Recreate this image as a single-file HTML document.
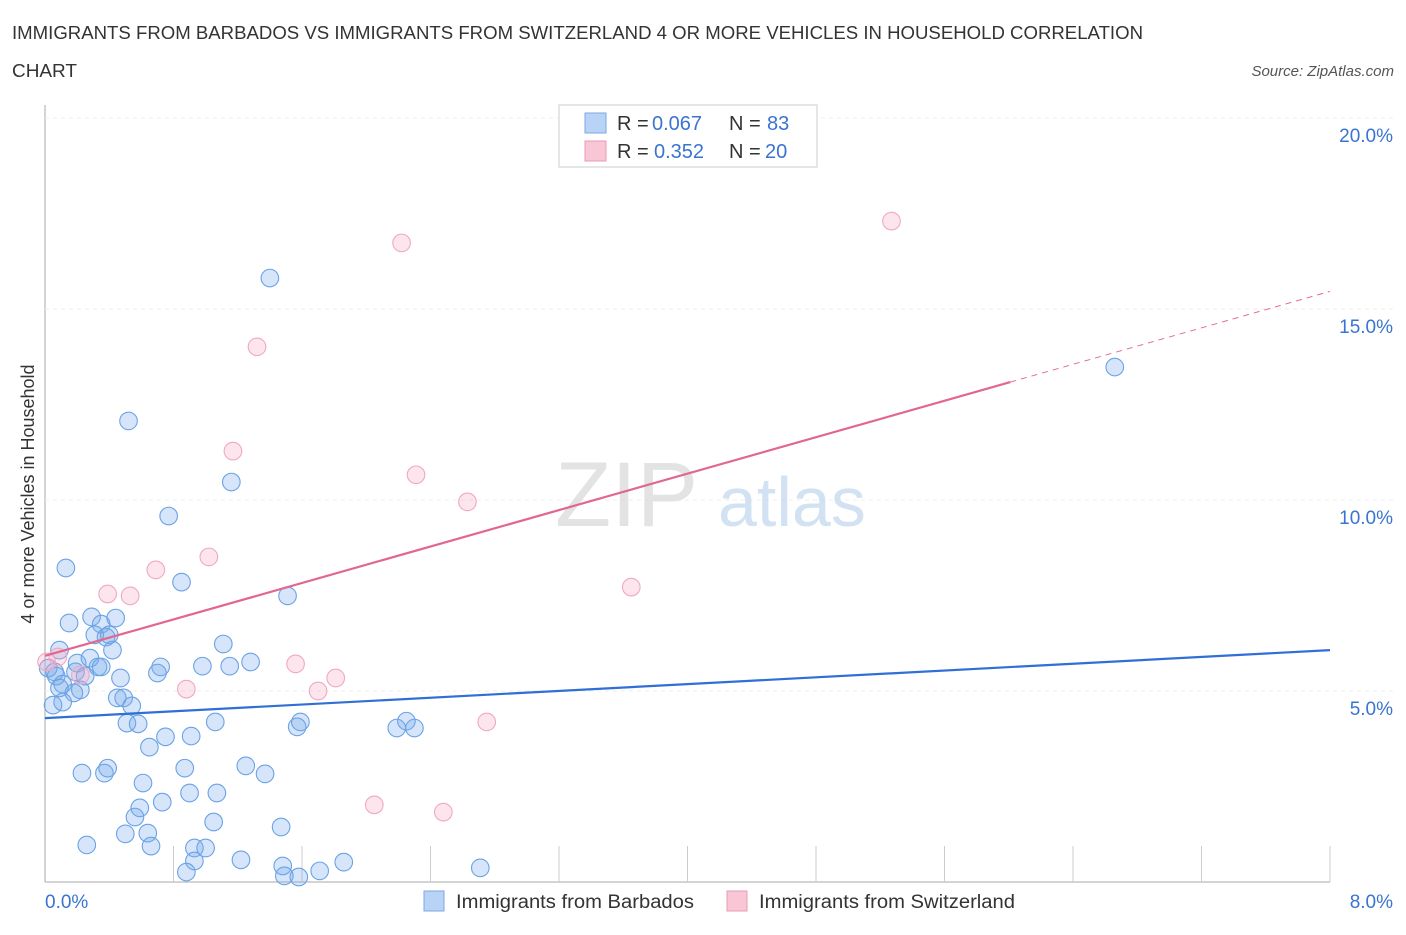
<!DOCTYPE html>
<html><head><meta charset="utf-8"><style>
body{margin:0;background:#fff;font-family:"Liberation Sans",sans-serif;}
svg text{font-family:"Liberation Sans",sans-serif;}
</style></head><body>
<svg id="chart" width="1406" height="930" xmlns="http://www.w3.org/2000/svg">
<text x="12" y="39" font-size="18" fill="#333" textLength="1131" lengthAdjust="spacingAndGlyphs">IMMIGRANTS FROM BARBADOS VS IMMIGRANTS FROM SWITZERLAND 4 OR MORE VEHICLES IN HOUSEHOLD CORRELATION</text>
<text x="12" y="77" font-size="18" fill="#333" textLength="65" lengthAdjust="spacingAndGlyphs">CHART</text>
<text x="1394" y="76" font-size="15" fill="#555" font-style="italic" text-anchor="end">Source: ZipAtlas.com</text>
<text transform="translate(34,494) rotate(-90)" font-size="18" fill="#333" text-anchor="middle">4 or more Vehicles in Household</text>
<g id="grid"></g>
<text x="555" y="526" font-size="92" fill="#ddd" font-family="Liberation Serif" opacity="0.8">ZIP</text>
<text x="718" y="526" font-size="70" fill="#c8dcf0" opacity="0.8">atlas</text>
<g id="pts"></g>
<g id="lines"></g>
<g>
<rect x="559" y="105" width="258" height="62" fill="#fff" stroke="#ccc"/>
<rect x="585" y="113" width="21" height="20" fill="#b8d3f5" stroke="#7aa9e6"/>
<rect x="585" y="141" width="21" height="20" fill="#f9c6d6" stroke="#ea9bb5"/>
<text x="617" y="130" font-size="20" fill="#333">R = <tspan fill="#3a74d0" x="652">0.067</tspan><tspan x="729">N = </tspan><tspan fill="#3a74d0" x="767">83</tspan></text>
<text x="617" y="158" font-size="20" fill="#333">R = <tspan fill="#3a74d0" x="654">0.352</tspan><tspan x="729">N = </tspan><tspan fill="#3a74d0" x="765">20</tspan></text>
</g>
<g>
<rect x="424" y="891" width="20" height="20" fill="#b8d3f5" stroke="#7aa9e6"/>
<text x="456" y="908" font-size="19" fill="#333" textLength="238" lengthAdjust="spacingAndGlyphs">Immigrants from Barbados</text>
<rect x="727" y="891" width="20" height="20" fill="#f9c6d6" stroke="#ea9bb5"/>
<text x="759" y="908" font-size="19" fill="#333" textLength="256" lengthAdjust="spacingAndGlyphs">Immigrants from Switzerland</text>
</g>
</svg>
<script>
const xTicks=[0,8];
const yTicks=[5,10,15,20];
const blueX=[.13,.52,.77,1.16,1.40,.85,1.51,6.66,.15,.29,.35,.44,.31,.40,.38,.42,.09,.02,.06,.07,.11,.19,.20,.25,.28,.33,.35,.47,.45,.49,.54,.22,.18,.05,.11,.09,.72,.70,.98,1.11,1.15,1.28,1.06,1.57,1.59,2.19,2.25,2.30,.51,.58,.65,.75,.91,.23,.37,.39,.61,.87,.90,1.07,1.25,1.37,.73,.59,.56,.50,.64,.66,1.05,1.47,.26,.93,1.00,.93,1.22,1.48,1.86,2.71,.88,1.49,1.58,1.71];
const blueY=[8.22,12.07,9.58,10.47,15.81,7.85,7.49,13.48,6.78,6.94,6.75,6.91,6.47,6.47,6.41,6.07,6.07,5.60,5.50,5.39,5.18,5.50,5.73,5.39,5.86,5.63,5.63,5.34,4.82,4.82,4.61,5.03,4.95,4.63,4.71,5.08,5.63,5.47,5.65,6.23,5.65,5.76,4.19,4.06,4.19,4.03,4.21,4.03,4.16,4.14,3.53,3.80,3.82,2.85,2.85,2.98,2.59,2.98,2.33,2.33,3.04,2.83,2.09,1.94,1.70,1.26,1.28,.94,1.57,1.44,.97,.89,.89,.55,.58,.42,.52,.37,.26,.16,.13,.29];
const pinkX=[2.22,5.27,1.32,1.17,2.31,2.63,3.65,1.02,.69,.39,.53,.88,1.56,1.70,1.81,2.05,2.48,2.75,.08,.01,.22];
const pinkY=[16.73,17.30,14.01,11.28,10.66,9.95,7.72,8.51,8.17,7.54,7.49,5.05,5.71,5.00,5.34,2.02,1.83,4.19,5.89,5.76,5.42];
const blueFit=[4.29,6.07];
const pinkFit=[5.92,15.46];
const pinkSolidEnd=6.01;
const NS="http://www.w3.org/2000/svg";
const X0=45,X1=1330,Y0=882,Y1=118;
const sx=v=>X0+v/8*(X1-X0);
const sy=v=>Y0-v/20*(Y0-Y1);
function mk(t,a,p){const e=document.createElementNS(NS,t);for(const k in a)e.setAttribute(k,a[k]);p.appendChild(e);return e;}
const grid=document.getElementById('grid');
let ax=mk('line',{x1:X0,y1:105,x2:X0,y2:Y0,stroke:'#aaa'},grid);


let bx=mk('line',{x1:X0,y1:Y0,x2:X1,y2:Y0,stroke:'#aaa'},grid);


for(let i=1;i<=10;i++){const t=mk('line',{x1:sx(i*0.8),y1:Y0,x2:sx(i*0.8),y2:846,stroke:'#ccc'},grid);

}
yTicks.forEach(v=>{const g=mk('line',{x1:X0,y1:sy(v),x2:1395,y2:sy(v),stroke:'#ececec','stroke-dasharray':'4,4'},grid);


const t=mk('text',{x:1393,y:sy(v)+24,'font-size':19,fill:'#3a74d0','text-anchor':'end'},grid);t.textContent=v.toFixed(1)+'%';

});
xTicks.forEach((v,i)=>{const t=mk('text',{x:i?1393:45,y:908,'font-size':19,fill:'#3a74d0','text-anchor':i?'end':'start'},grid);t.textContent=v.toFixed(1)+'%';

});
const pts=document.getElementById('pts');
blueX.forEach((v,i)=>{const c=mk('circle',{cx:sx(v),cy:sy(blueY[i]),r:8.8,fill:'rgba(120,170,235,0.3)',stroke:'#6aa3e6','stroke-width':1.1},pts);

});
pinkX.forEach((v,i)=>{const c=mk('circle',{cx:sx(v),cy:sy(pinkY[i]),r:8.8,fill:'rgba(248,170,198,0.3)',stroke:'#f0a8c0','stroke-width':1.1},pts);

});
const lines=document.getElementById('lines');
let bl=mk('line',{x1:sx(0),y1:sy(blueFit[0]),x2:sx(8),y2:sy(blueFit[1]),stroke:'#2f6fd6','stroke-width':2.2},lines);


const pm=pinkFit[0]+(pinkFit[1]-pinkFit[0])*pinkSolidEnd/8;
let pl=mk('line',{x1:sx(0),y1:sy(pinkFit[0]),x2:sx(pinkSolidEnd),y2:sy(pm),stroke:'#e2678f','stroke-width':2.2},lines);


let pd=mk('line',{x1:sx(pinkSolidEnd),y1:sy(pm),x2:sx(8),y2:sy(pinkFit[1]),stroke:'#e2678f','stroke-width':1,'stroke-dasharray':'6,5'},lines);


</script>
</body></html>
